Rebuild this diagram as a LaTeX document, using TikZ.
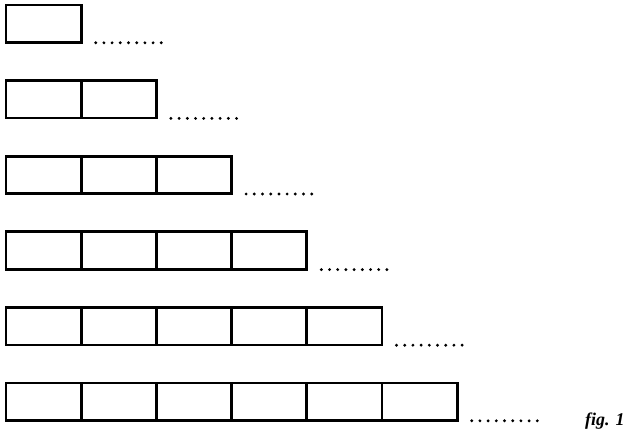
\documentclass[tikz,border=0pt]{standalone}
\usepackage{fontspec}
\setmainfont{Liberation Serif}
\begin{document}
\begin{tikzpicture}[x=1bp,y=-1bp,
  cell/.style={draw=black,line width=2.7bp,rectangle,minimum width=75.2bp,minimum height=37.5bp,inner sep=0pt,outer sep=0pt},
  dotrow/.style={draw=black,line width=3.2bp,line cap=round,dash pattern=on 0bp off 8.2bp},
  figlabel/.style={font=\bfseries\itshape\fontsize{18}{18}\selectfont,inner sep=0pt,anchor=base west}]
\useasboundingbox (0,0) rectangle (632,434);
\foreach \i in {1,...,6}{
  \foreach \j in {1,...,\i}{
    \node[cell] (r\i-\j) at ({6+75.2*(\j-0.5)},{5+75.6*(\i-1)+18.75}) {};
  }
  \coordinate (ds\i) at ({6+75.2*\i+14.5},{5+75.6*(\i-1)+37.8});
  \coordinate (de\i) at ({6+75.2*\i+14.5+65.8},{5+75.6*(\i-1)+37.8});
  \draw[dotrow] (ds\i) -- (de\i);
}
\node[figlabel] (fig) at (585,425) {fig. 1};
\end{tikzpicture}
\end{document}
